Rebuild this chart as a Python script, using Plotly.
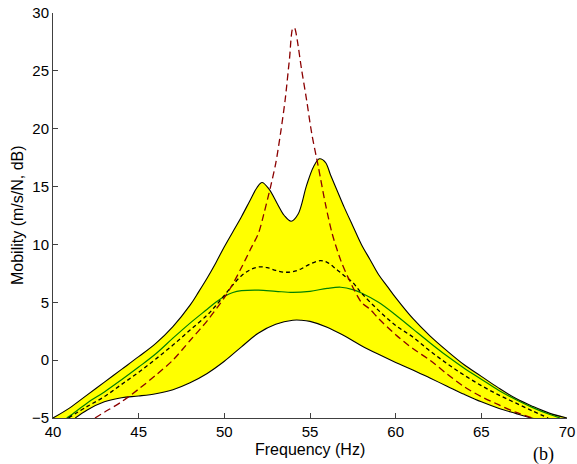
import plotly.graph_objects as go

# Upper envelope (black solid, top of yellow band)
upper_f = [40.0, 41, 42, 43, 44, 45, 46, 47, 48, 48.5, 49, 49.5, 50, 50.5, 51, 51.5, 51.9, 52.2,
           52.6, 53.1, 53.5, 53.9, 54.3, 54.8, 55.2, 55.55, 55.9, 56.2, 56.6, 57, 57.5, 58, 58.5,
           59, 59.5, 60, 61, 62, 63, 64, 65, 66, 67, 68, 69, 70]
upper_v = [-5.0, -4.1, -3.0, -1.9, -0.8, 0.3, 1.45, 2.9, 4.75, 5.9, 7.1, 8.4, 9.8, 11.1, 12.4, 13.8,
           14.9, 15.35, 14.8, 13.5, 12.5, 12.0, 12.6, 15.1, 16.7, 17.4, 17.1, 16.0, 14.6, 13.2,
           11.6, 10.0, 8.7, 7.4, 6.4, 5.4, 3.6, 2.1, 0.8, -0.4, -1.4, -2.4, -3.3, -4.0, -4.6, -5.0]

# Lower envelope (black solid, bottom of yellow band)
lower_f = [41.3, 42, 43, 44, 45, 46, 47, 48, 49, 50, 51, 52, 53, 54, 54.5, 55, 56, 57, 58, 59,
           60, 61, 62, 63, 64, 65, 66, 67, 67.8, 68.5]
lower_v = [-5.0, -4.3, -3.6, -3.25, -3.1, -2.9, -2.55, -1.95, -1.15, -0.1, 1.15, 2.35, 3.1, 3.45,
           3.45, 3.35, 2.85, 2.1, 1.25, 0.5, -0.2, -0.85, -1.55, -2.25, -2.95, -3.6, -4.15, -4.6,
           -4.95, -5.2]

# Green solid curve
green_f = [40.8, 41, 42, 43, 44, 45, 46, 47, 48, 49, 49.5, 50, 50.5, 51, 52, 53, 54, 55, 56, 56.8,
           57.5, 58, 59, 60, 61, 62, 63, 64, 65, 66, 67, 68, 69, 69.6]
green_v = [-5.0, -4.8, -3.7, -2.75, -1.7, -0.6, 0.55, 1.9, 3.2, 4.4, 5.0, 5.5, 5.85, 6.0, 6.05,
           5.95, 5.85, 5.95, 6.2, 6.3, 6.1, 5.8, 5.0, 3.9, 2.7, 1.5, 0.35, -0.7, -1.65, -2.6, -3.4,
           -4.1, -4.7, -5.0]

# Black dashed curve
black_f = [40.9, 42, 43, 44, 45, 46, 47, 48, 49, 49.5, 50, 50.5, 51, 51.5, 52, 52.5, 53, 53.5, 54,
           54.5, 55, 55.6, 56, 56.5, 57, 57.5, 58, 59, 60, 61, 62, 63, 64, 65, 66, 67, 68, 68.9]
black_v = [-5.0, -4.0, -3.15, -2.1, -1.05, 0.1, 1.3, 2.6, 3.9, 4.7, 5.6, 6.5, 7.3, 7.8, 8.05, 8.0,
           7.75, 7.6, 7.65, 7.9, 8.3, 8.6, 8.45, 7.9, 7.3, 6.7, 5.8, 4.3, 3.0, 2.0, 0.8, -0.3, -1.3,
           -2.2, -3.0, -3.7, -4.4, -5.0]

# Dark red dashed curve
red_f = [42.45, 43, 44, 45, 46, 47, 48, 49, 50, 50.5, 51, 51.5, 52, 52.3, 52.7, 53, 53.3, 53.55,
         53.8, 54.0, 54.1, 54.25, 54.5, 54.8, 55.1, 55.5, 55.9, 56.3, 56.8, 57.3, 58, 58.5, 59,
         60, 61, 62, 63, 64, 65, 66, 67, 68.2]
red_v = [-5.0, -4.5, -3.6, -2.5, -1.3, 0.0, 1.7, 3.4, 5.4, 6.6, 8.0, 9.5, 11.0, 12.6, 15.0, 17.0,
         19.8, 22.5, 26.0, 28.7, 28.7, 27.7, 25.2, 22.5, 19.6, 16.6, 13.5, 10.9, 8.6, 6.9, 5.0,
         4.4, 3.6, 2.2, 1.0, 0.0, -1.2, -2.3, -3.15, -3.85, -4.5, -5.1]

x_ticks = [40, 45, 50, 55, 60, 65, 70]
y_ticks = [-5, 0, 5, 10, 15, 20, 25, 30]

SM = 1.0
fig = go.Figure()

# yellow band
fig.add_trace(go.Scatter(
    x=upper_f + lower_f[::-1], y=upper_v + lower_v[::-1],
    mode="lines", fill="toself", fillcolor="#ffff00",
    line=dict(width=0, shape="spline", smoothing=SM), hoverinfo="skip", showlegend=False))

fig.add_trace(go.Scatter(x=upper_f, y=upper_v, mode="lines",
                         line=dict(color="black", width=1.1, shape="spline", smoothing=SM),
                         showlegend=False))
fig.add_trace(go.Scatter(x=lower_f, y=lower_v, mode="lines",
                         line=dict(color="black", width=1.1, shape="spline", smoothing=SM),
                         showlegend=False))
fig.add_trace(go.Scatter(x=green_f, y=green_v, mode="lines",
                         line=dict(color="#008000", width=1.2, shape="spline", smoothing=SM),
                         showlegend=False))
fig.add_trace(go.Scatter(x=black_f, y=black_v, mode="lines",
                         line=dict(color="black", width=1.3, dash="4px,3px", shape="spline",
                                   smoothing=SM),
                         showlegend=False))
fig.add_trace(go.Scatter(x=red_f, y=red_v, mode="lines",
                         line=dict(color="#8b0000", width=1.3, dash="7px,4px", shape="spline",
                                   smoothing=0.8),
                         showlegend=False))

tick_font = dict(family="Liberation Sans, Arial, sans-serif", size=15, color="black")
title_font = dict(family="Liberation Sans, Arial, sans-serif", size=16, color="black")

fig.update_layout(
    width=577, height=464,
    margin=dict(l=53, r=10, t=13, b=46, autoexpand=False),
    paper_bgcolor="white", plot_bgcolor="white",
    font=tick_font,
    xaxis=dict(range=[40, 70], tickvals=x_ticks, ticks="inside", ticklen=5, tickcolor="#404040",
               showline=True, linecolor="#404040", linewidth=1, showgrid=False, zeroline=False,
               tickfont=tick_font, automargin=False, ticklabeloverflow="allow"),
    yaxis=dict(range=[-5, 30], tickvals=y_ticks, ticks="inside", ticklen=5, tickcolor="#404040",
               showline=True, linecolor="#404040", linewidth=1, showgrid=False, zeroline=False,
               tickfont=tick_font, automargin=False, ticklabeloverflow="allow"),
    annotations=[
        dict(text="Frequency (Hz)", xref="paper", yref="paper", x=0.5, y=-0.079,
             xanchor="center", yanchor="middle", showarrow=False, font=title_font),
        dict(text="Mobility (m/s/N, dB)", xref="paper", yref="paper", x=-0.069, y=0.5,
             xanchor="center", yanchor="middle", textangle=-90, showarrow=False, font=title_font),
        dict(text="(b)", xref="paper", yref="paper", x=0.955, y=-0.089,
             xanchor="center", yanchor="middle", showarrow=False,
             font=dict(family="Liberation Serif, Times New Roman, serif", size=18,
                       color="black")),
    ],
)

# remove the default 8px page margin so the figure fills the 577x464 window exactly
fig.write_html("out.html", config={"displayModeBar": False},
               post_script="document.body.style.margin='0';")
